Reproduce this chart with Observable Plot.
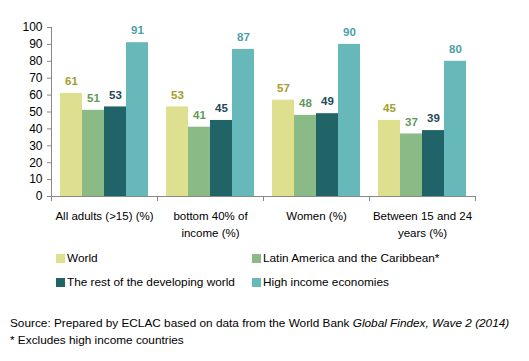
<!DOCTYPE html>
<html><head><meta charset="utf-8">
<script src="https://cdn.jsdelivr.net/npm/d3@7"></script>
<script src="https://cdn.jsdelivr.net/npm/@observablehq/plot@0.6"></script>
<style>
body{margin:0;background:#fff;font-family:"Liberation Sans",Arial,sans-serif;color:#000;}
#wrap{position:relative;width:529px;height:361px;}
#chart{position:absolute;left:0;top:0;}
.leg{position:absolute;font-size:11.8px;line-height:14px;white-space:nowrap;}
.sw{display:inline-block;width:9px;height:9px;margin-right:2px;vertical-align:-1px;}
.src{position:absolute;left:10px;font-size:11.8px;white-space:nowrap;line-height:14px;}
</style></head><body>
<div id="wrap"><div id="chart"></div><div id="legend"></div>
<div class="src" style="top:316px">Source: Prepared by ECLAC based on data from the World Bank <i>Global Findex, Wave 2 (2014)</i></div>
<div class="src" style="top:333px">* Excludes high income countries</div>
</div>
<script>
const categories = ["All adults (>15) (%)", "bottom 40% of\nincome (%)", "Women (%)", "Between 15 and 24\nyears (%)"];
const series = ["World", "Latin America and the Caribbean*", "The rest of the developing world", "High income economies"];
const world = [61, 53, 57, 45];
const lac = [51, 41, 48, 37];
const rest = [53, 45, 49, 39];
const high = [91, 87, 90, 80];
const yTicks = [0, 10, 20, 30, 40, 50, 60, 70, 80, 90, 100];
const barColors = ["#dee08f", "#8aba86", "#216468", "#67b8b9"];
const labelColors = ["#a39e2e", "#5f9a58", "#1d4a58", "#4a9fa8"];

const values = [world, lac, rest, high];
const data = [];
series.forEach((s, i) => categories.forEach((c, j) => data.push({cat: c, series: s, value: values[i][j]})));

const marks = [];
series.forEach((s, i) => {
  const d = data.filter(r => r.series === s);
  marks.push(Plot.barY(d, {fx: "cat", x: "series", y: "value", fill: barColors[i], inset: 0}));
  marks.push(Plot.text(d, {fx: "cat", x: "series", y: "value", text: "value", dy: -12, fill: labelColors[i], fontWeight: "bold", fontSize: 11.5}));
});
marks.push(Plot.axisY({ticks: yTicks, tickSize: 4, tickPadding: 5, fontSize: 12, stroke: "#888", fill: "#000", label: null}));
marks.push(Plot.axisFx({anchor: "bottom", tickSize: 0, tickPadding: 11, fontSize: 11.5, lineHeight: 1.5, fill: "#000", label: null}));

const chart = Plot.plot({
  width: 529, height: 240,
  marginLeft: 51, marginRight: 54, marginTop: 27, marginBottom: 44,
  style: {fontFamily: "Liberation Sans, Arial, sans-serif", background: "#fff", overflow: "visible"},
  fx: {domain: categories, padding: 0, label: null},
  x: {domain: series, paddingInner: 0, paddingOuter: 0.38, axis: null},
  y: {domain: [0, 100], label: null},
  marks
});
document.getElementById("chart").appendChild(chart);

// axis lines and category boundary ticks from the library's scales
const fx = chart.scale("fx"), y = chart.scale("y");
const svg = d3.select(chart);
const x0 = fx.apply(categories[0]);
const x1 = fx.apply(categories[categories.length - 1]) + fx.bandwidth;
const y0 = y.apply(0), y100 = y.apply(100);
const g = svg.append("g").attr("stroke", "#888").attr("stroke-width", 1).attr("shape-rendering", "crispEdges");
g.append("line").attr("x1", x0).attr("x2", x0).attr("y1", y100).attr("y2", y0);
g.append("line").attr("x1", x0).attr("x2", x1).attr("y1", y0).attr("y2", y0);
categories.forEach(c => {
  const xe = fx.apply(c);
  g.append("line").attr("x1", xe).attr("x2", xe).attr("y1", y0).attr("y2", y0 + 5);
});
g.append("line").attr("x1", x1).attr("x2", x1).attr("y1", y0).attr("y2", y0 + 5);

// legend
const legPos = [[56, 251], [252, 251], [56, 275], [252, 275]];
const leg = document.getElementById("legend");
series.forEach((s, i) => {
  const div = document.createElement("div");
  div.className = "leg";
  div.style.left = legPos[i][0] + "px";
  div.style.top = legPos[i][1] + "px";
  div.innerHTML = `<span class="sw" style="background:${barColors[i]}"></span>${s}`;
  leg.appendChild(div);
});
</script>
</body></html>
